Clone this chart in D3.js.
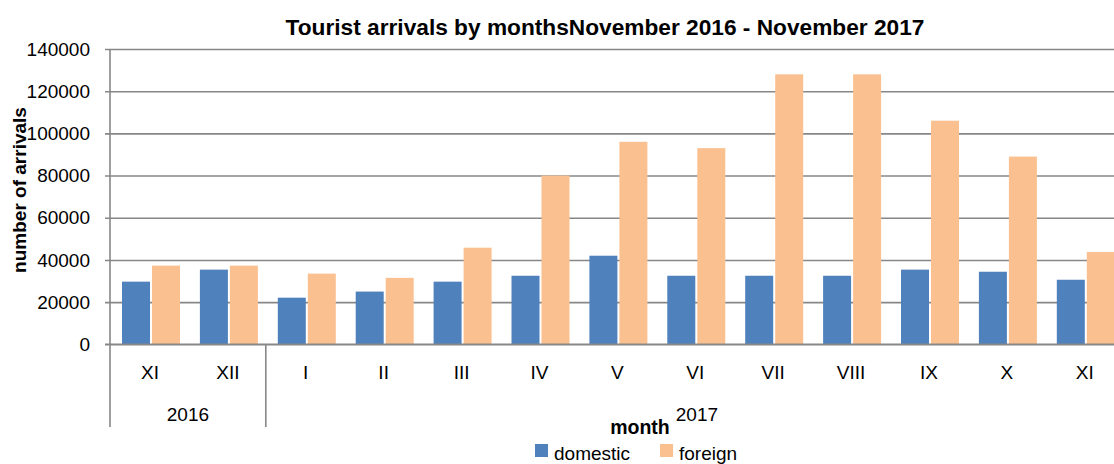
<!DOCTYPE html>
<html>
<head>
<meta charset="utf-8">
<script src="https://cdn.jsdelivr.net/npm/d3@7"></script>
<style>
  body { margin: 0; background: #fff; }
  svg text { font-family: "Liberation Sans", Arial, sans-serif; fill: #000; }
</style>
</head>
<body>
<svg id="chart"></svg>
<script>
// data
var months = ["XI", "XII", "I", "II", "III", "IV", "V", "VI", "VII", "VIII", "IX", "X", "XI"];
var years = [{ label: "2016", from: 0, to: 2 }, { label: "2017", from: 2, to: 13 }];
var domestic = [29700, 35400, 22100, 25000, 29700, 32500, 42000, 32500, 32500, 32500, 35400, 34400, 30600];
var foreign = [37300, 37300, 33500, 31500, 45800, 80000, 96000, 93000, 128000, 128000, 106000, 89000, 43800];
var series = ["domestic", "foreign"];
var colors = { domestic: "#4F81BD", foreign: "#FAC090" };

var W = 1114, H = 464,
    M = { top: 49, left: 110, bottom: 120 },
    plotRight = 1128,
    baseY = 344.3;

var svg = d3.select("#chart").attr("width", W).attr("height", H);

var idx = d3.range(months.length);
var x0 = d3.scaleBand().domain(idx).range([M.left, M.left + 13 * 77.9]);
var x1 = d3.scaleBand().domain(series).range([12, 70]).paddingInner(2 / 30);
var y = d3.scaleLinear().domain([0, 140000]).range([baseY, M.top]);

// y axis + gridlines
var yAxis = d3.axisLeft(y).ticks(7).tickFormat(d3.format("d"))
    .tickSize(-(W - M.left)).tickPadding(20);
var gy = svg.append("g")
    .attr("transform", "translate(" + M.left + ",0)")
    .call(yAxis);
gy.select(".domain").remove();
gy.selectAll(".tick line")
    .attr("x1", -5)
    .attr("stroke", "#878787")
    .attr("stroke-width", 1.6);
gy.selectAll(".tick text")
    .style("font-size", "19px")
    .attr("x", -20);

// bars
var rows = idx.map(function(i) { return { i: i, domestic: domestic[i], foreign: foreign[i] }; });
var groups = svg.selectAll(".grp")
    .data(rows)
    .enter().append("g")
    .attr("class", "grp")
    .attr("transform", function(d) { return "translate(" + x0(d.i) + ",0)"; });
groups.selectAll("rect")
    .data(function(d) { return series.map(function(s) { return { key: s, value: d[s] }; }); })
    .enter().append("rect")
    .attr("x", function(d) { return x1(d.key); })
    .attr("width", x1.bandwidth())
    .attr("y", function(d) { return y(d.value); })
    .attr("height", function(d) { return baseY - y(d.value); })
    .attr("fill", function(d) { return colors[d.key]; });

// axis lines
svg.append("line")
    .attr("x1", M.left - 5).attr("x2", W)
    .attr("y1", baseY).attr("y2", baseY)
    .attr("stroke", "#878787").attr("stroke-width", 1.6);
svg.append("line")
    .attr("x1", M.left).attr("x2", M.left)
    .attr("y1", M.top).attr("y2", baseY)
    .attr("stroke", "#878787").attr("stroke-width", 1.6);

// month labels
var xAxis = d3.axisBottom(x0).tickSize(0).tickPadding(0)
    .tickFormat(function(i) { return months[i]; });
var gx = svg.append("g")
    .attr("transform", "translate(1," + baseY + ")")
    .call(xAxis);
gx.select(".domain").remove();
gx.selectAll(".tick text")
    .style("font-size", "19px")
    .attr("dy", null)
    .attr("y", 35);

// year groups
var yearStart = function(d) { return x0(d.from); };
var yearEnd = function(d) { return d.to < months.length ? x0(d.to) : plotRight; };
svg.selectAll(".ysep")
    .data(years)
    .enter().append("line")
    .attr("x1", yearStart).attr("x2", yearStart)
    .attr("y1", baseY).attr("y2", 427)
    .attr("stroke", "#878787").attr("stroke-width", 1.6);
svg.selectAll(".ylab")
    .data(years)
    .enter().append("text")
    .attr("x", function(d) { return (yearStart(d) + yearEnd(d)) / 2; })
    .attr("y", 421)
    .attr("text-anchor", "middle")
    .style("font-size", "19px")
    .text(function(d) { return d.label; });

// titles
svg.append("text")
    .attr("x", 605).attr("y", 35)
    .attr("text-anchor", "middle")
    .style("font-size", "22.7px").style("font-weight", "bold")
    .text("Tourist arrivals by monthsNovember 2016 - November 2017");

svg.append("text")
    .attr("transform", "translate(26,190) rotate(-90)")
    .attr("text-anchor", "middle")
    .style("font-size", "19px").style("font-weight", "bold")
    .text("number of arrivals");

svg.append("text")
    .attr("x", 640).attr("y", 434)
    .attr("text-anchor", "middle")
    .style("font-size", "19.5px").style("font-weight", "bold")
    .text("month");

// legend
var legend = svg.selectAll(".leg")
    .data(series)
    .enter().append("g")
    .attr("transform", function(d, i) { return "translate(" + [535, 660][i] + ",0)"; });
legend.append("rect")
    .attr("y", 444).attr("width", 13).attr("height", 13)
    .attr("fill", function(d) { return colors[d]; });
legend.append("text")
    .attr("x", 19).attr("y", 460)
    .style("font-size", "19px")
    .text(function(d) { return d; });
</script>
</body>
</html>
